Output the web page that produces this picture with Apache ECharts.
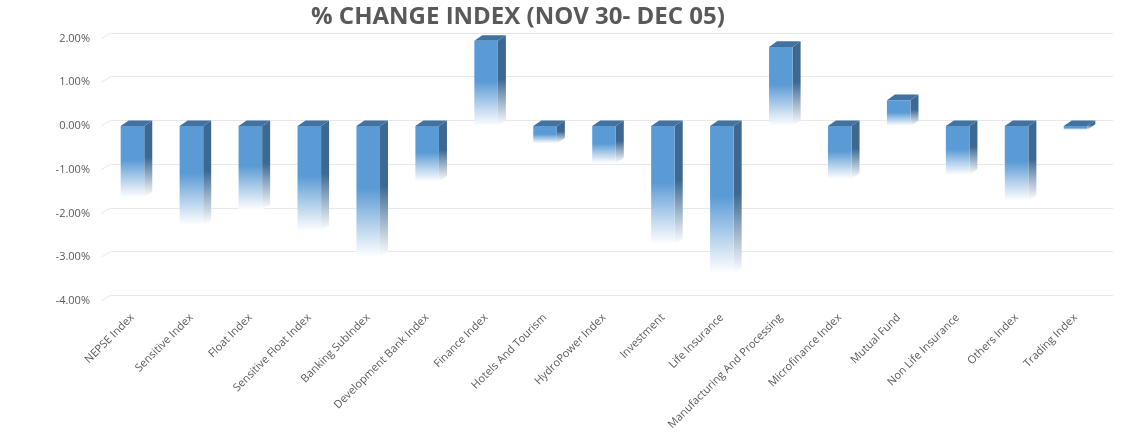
<!DOCTYPE html>
<html>
<head>
<meta charset="utf-8">
<script src="https://cdn.jsdelivr.net/npm/echarts@6/dist/echarts.min.js"></script>
<style>
html,body{margin:0;padding:0;background:#fff;}
#chart{width:1123px;height:438px;}
</style>
</head>
<body>
<div id="chart"></div>
<script>
const titleText = '% CHANGE INDEX (NOV 30- DEC 05)';
const categories = ['NEPSE Index','Sensitive Index','Float Index','Sensitive Float Index','Banking SubIndex','Development Bank Index','Finance Index','Hotels And Tourism','HydroPower Index','Investment','Life Insurance','Manufacturing And Processing','Microfinance Index','Mutual Fund','Non Life Insurance','Others Index','Trading Index'];
const changePct = [-1.63, -2.27, -1.92, -2.40, -3.00, -1.27, 1.95, -0.40, -0.85, -2.71, -3.37, 1.81, -1.21, 0.59, -1.12, -1.71, -0.09];
const yTicks = [-4, -3, -2, -1, 0, 1, 2];

const DX = 8, DY = 5.6;
const FRONT = '#5b9bd5', SIDE = '#3c6892', TOP = '#42729f';

function grad(c){
  return new echarts.graphic.LinearGradient(0,0,0,1,[
    {offset:0,color:c},{offset:0.48,color:c},{offset:1,color:'rgba(255,255,255,0.95)'}
  ]);
}

function renderBar(params, api){
  const i = api.value(0), v = api.value(1);
  const p0 = api.coord([i, 0]);
  const p1 = api.coord([i, v]);
  const band = api.size([1,0])[0];
  const w = band*0.4;
  const l = p0[0]-w/2, r = p0[0]+w/2;
  const t = Math.min(p0[1],p1[1]), b = Math.max(p0[1],p1[1]);
  return {type:'group', children:[
    {type:'polygon', shape:{points:[[r,t],[r+DX,t-DY],[r+DX,b-DY],[r,b]]}, style:{fill:grad(SIDE)}},
    {type:'polygon', shape:{points:[[l,t],[l+DX,t-DY],[r+DX,t-DY],[r,t]]}, style:{fill:TOP}},
    {type:'rect', shape:{x:l,y:t,width:w,height:Math.max(b-t,0.5)}, style:{fill:grad(FRONT)}}
  ]};
}

function renderWall(params, api){
  const v = api.value(1);
  const p = api.coord([0, v]);
  const band = api.size([1,0])[0];
  const x0 = p[0]-band/2 - 1.5;
  return {type:'line', shape:{x1:x0,y1:p[1],x2:x0+DX+1,y2:p[1]-DY}, style:{stroke:'#e6e6e6',lineWidth:1}};
}

const chart = echarts.init(document.getElementById('chart'));
chart.setOption({
  animation:false,
  backgroundColor:'#fff',
  title:{text:titleText, left:306, top:0, textStyle:{fontFamily:'Open Sans', fontWeight:'bold', fontSize:24, color:'#595959'}},
  grid:[
    {left:103, right:18, top:38.6, bottom:137.2},
    {left:111, right:10, top:33, bottom:142.8}
  ],
  xAxis:[
    {type:'category', gridIndex:0, data:categories,
     axisLine:{show:false,onZero:false}, axisTick:{show:false},
     axisLabel:{rotate:45, interval:0, margin:15, fontFamily:'Open Sans', fontSize:11, color:'#595959'}},
    {type:'category', gridIndex:1, data:categories, show:false}
  ],
  yAxis:[
    {type:'value', gridIndex:0, min:-4, max:2, interval:1,
     axisLine:{show:false}, axisTick:{show:false}, splitLine:{show:false},
     axisLabel:{margin:13, fontFamily:'Open Sans', fontSize:11, color:'#595959', formatter:v=>v.toFixed(2)+'%'}},
    {type:'value', gridIndex:1, min:-4, max:2, interval:1,
     axisLine:{show:false}, axisTick:{show:false}, axisLabel:{show:false},
     splitLine:{show:true, lineStyle:{color:'#e8e8e8', width:1}}}
  ],
  series:[
    {type:'custom', xAxisIndex:0, yAxisIndex:0, renderItem:renderWall, clip:false, silent:true,
     data:yTicks.map(v=>[0,v])},
    {type:'custom', xAxisIndex:0, yAxisIndex:0, renderItem:renderBar, clip:false,
     data:changePct.map((v,i)=>[i,v])}
  ]
});
</script>
</body>
</html>
